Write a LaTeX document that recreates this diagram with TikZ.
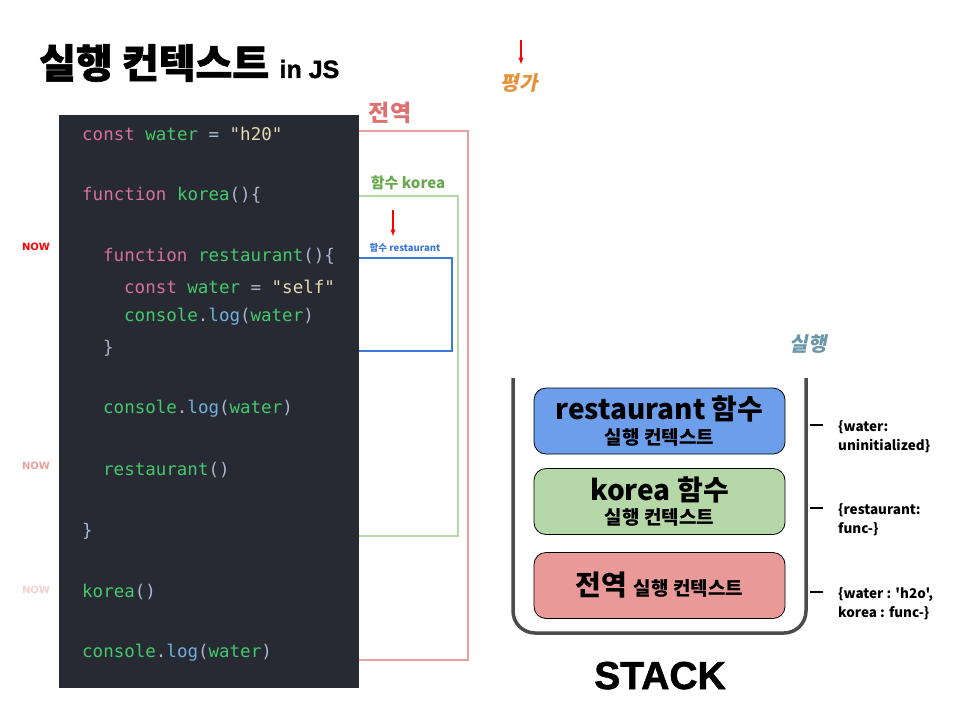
\documentclass[tikz,border=0pt]{standalone}
\usepackage{xcolor}
\usepackage{fontspec}
\usetikzlibrary{arrows}
\usetikzlibrary{calc}

\setmainfont{DejaVu Sans}
\setmonofont{DejaVu Sans Mono}
\newfontfamily\kr{Noto Sans CJK KR}
\newfontfamily\krheavy{Noto Sans CJK KR}[BoldFeatures={FakeBold=1.5}]
\newfontfamily\krsl{Noto Sans CJK KR}[FakeSlant=0.2]
\newfontfamily\stackfont{Liberation Sans}[BoldFeatures={FakeBold=1.5}]

\definecolor{codebg}{HTML}{272933}
\definecolor{kwc}{HTML}{D8709C}
\definecolor{idc}{HTML}{44C96C}
\definecolor{punc}{HTML}{A9B7CC}
\definecolor{strc}{HTML}{E6D9B4}
\definecolor{fnc}{HTML}{6FB2DE}
\definecolor{globalc}{HTML}{E8A09E}
\definecolor{globaltxt}{HTML}{E06F6F}
\definecolor{koreac}{HTML}{B6D7A8}
\definecolor{koreatxt}{HTML}{6AA84F}
\definecolor{restc}{HTML}{3C78D8}
\definecolor{restfill}{HTML}{6D9EEB}
\definecolor{globalfill}{HTML}{EA9999}
\definecolor{evalc}{HTML}{E69138}
\definecolor{runc}{HTML}{6A97A8}

\newcommand\jkw[1]{\textcolor{kwc}{#1}}
\newcommand\jid[1]{\textcolor{idc}{#1}}
\newcommand\jpun[1]{\textcolor{punc}{#1}}
\newcommand\jstr[1]{\textcolor{strc}{#1}}
\newcommand\jfn[1]{\textcolor{fnc}{#1}}

\tikzset{
  codeline/.style={anchor=west, inner sep=0pt, font=\ttfamily\fontsize{17.5}{20}\selectfont},
  nowmark/.style={inner sep=0pt, font=\bfseries\fontsize{10}{12}\selectfont},
  ctxbox/.style={draw=black, line width=0.8pt, rounded corners=12pt, minimum width=251pt,
    minimum height=66pt, align=center, inner sep=0pt},
  memo/.style={anchor=north west, align=left, inner sep=0pt, font=\kr\bfseries\fontsize{13.5}{19.5}\selectfont},
  evalarrow/.style={->, >=latex, red, line width=1.3pt}
}

\begin{document}
\begin{tikzpicture}[x=1pt, y=-1pt]

      \useasboundingbox (0,0) rectangle (960,720);

      % title
      \node[anchor=west, inner sep=0pt] (title) at (39,63) {\krheavy\bfseries\fontsize{40}{44}\selectfont 실행 컨텍스트};
      \node[anchor=base west, inner sep=0pt] (injs) at ([xshift=10pt]title.base east) {\stackfont\bfseries\fontsize{25}{27}\selectfont in JS};

      % scopes (drawn under the code panel)
      \draw[globalc, line width=2.5pt] (340,131) rectangle (468,660);
      \draw[koreac, line width=2.5pt] (340,196) rectangle (458,536);
      \draw[restc, line width=2.5pt] (340,258) rectangle (452,351);
      \node[inner sep=0pt, text=globaltxt] (globallbl) at (390,113) {\kr\bfseries\fontsize{23}{25}\selectfont 전역};
      \node[inner sep=0pt, text=koreatxt] (korealbl) at (408,183) {\kr\bfseries\fontsize{15}{17}\selectfont 함수 korea};
      \node[inner sep=0pt, text=restc] (restlbl) at (405,248) {\kr\bfseries\fontsize{9.5}{11}\selectfont 함수 restaurant};
      \coordinate (restarrow) at (393,210);
      \draw[evalarrow] (restarrow) -- ([yshift=7pt]restlbl.north -| restarrow);

      % code
      \fill[codebg] (59,115) rectangle (359,688);
      \node[codeline] (c1) at (82,134) {\jkw{const} \jid{water} \jpun{=} \jstr{"h20"}};
      \node[codeline] (c2) at (82,195) {\jkw{function} \jid{korea}\jpun{()\{}};
      \node[codeline] (c3) at (103,256) {\jkw{function} \jid{restaurant}\jpun{()\{}};
      \node[codeline] (c4) at (124,287) {\jkw{const} \jid{water} \jpun{=} \jstr{"self"}};
      \node[codeline] (c5) at (124,317) {\jid{console}\jpun{.}\jfn{log}\jpun{(}\jid{water}\jpun{)}};
      \node[codeline] (c6) at (103,348) {\jpun{\}}};
      \node[codeline] (c7) at (103,409) {\jid{console}\jpun{.}\jfn{log}\jpun{(}\jid{water}\jpun{)}};
      \node[codeline] (c8) at (103,470) {\jid{restaurant}\jpun{()}};
      \node[codeline] (c9) at (82,531) {\jpun{\}}};
      \node[codeline] (c10) at (82,592) {\jid{korea}\jpun{()}};
      \node[codeline] (c11) at (82,653) {\jid{console}\jpun{.}\jfn{log}\jpun{(}\jid{water}\jpun{)}};

      \node[nowmark, text=red] (now1) at (36,247) {NOW};
      \node[nowmark, text=globalc] (now2) at (36,466) {NOW};
      \node[nowmark, text=globalc!50] (now3) at (36,590) {NOW};

      % evaluation / execution
      \node[inner sep=0pt, text=evalc] (evallbl) at (519,83) {\krsl\bfseries\fontsize{20}{22}\selectfont 평가};
      \coordinate (evalarrow) at (521,40);
      \draw[evalarrow] (evalarrow) -- ([yshift=9pt]evallbl.north -| evalarrow);
      \node[inner sep=0pt, text=runc] (runlbl) at (808,344) {\krsl\bfseries\fontsize{20}{22}\selectfont 실행};

      % stack
      \draw[black!70, line width=3.5pt, rounded corners=22pt] (513,378) -- (513,633) -- (806,633) -- (806,378);
      \node[ctxbox, fill=restfill] (rctx) at (659.5,421)
        {\kr\bfseries\fontsize{28}{30}\selectfont restaurant 함수\\[5pt]\kr\bfseries\fontsize{19}{20}\selectfont 실행 컨텍스트};
      \node[ctxbox, fill=koreac] (kctx) at (659.5,501.5)
        {\kr\bfseries\fontsize{28}{30}\selectfont korea 함수\\[5pt]\kr\bfseries\fontsize{19}{20}\selectfont 실행 컨텍스트};
      \node[ctxbox, fill=globalfill] (gctx) at (659.5,585.5)
        {\kr\bfseries\fontsize{28}{30}\selectfont 전역 {\fontsize{19}{20}\selectfont 실행 컨텍스트}};
      \node[anchor=base, inner sep=0pt] (stacklbl) at (660,689) {\stackfont\bfseries\fontsize{39}{44}\selectfont STACK};

      % memory of each context
      \node[memo] (rmemo) at (838,420) {\{water:\\uninitialized\}};
      \node[memo] (kmemo) at (838,503) {\{restaurant:\\func-\}};
      \node[memo] (gmemo) at (838,587) {\{water : 'h2o',\\korea : func-\}};
      \foreach \m in {rmemo,kmemo,gmemo}
        \draw[line width=1.5pt] ($(\m.north west)+(-15,5)$) -- ++(-13,0);

\end{tikzpicture}
\end{document}
